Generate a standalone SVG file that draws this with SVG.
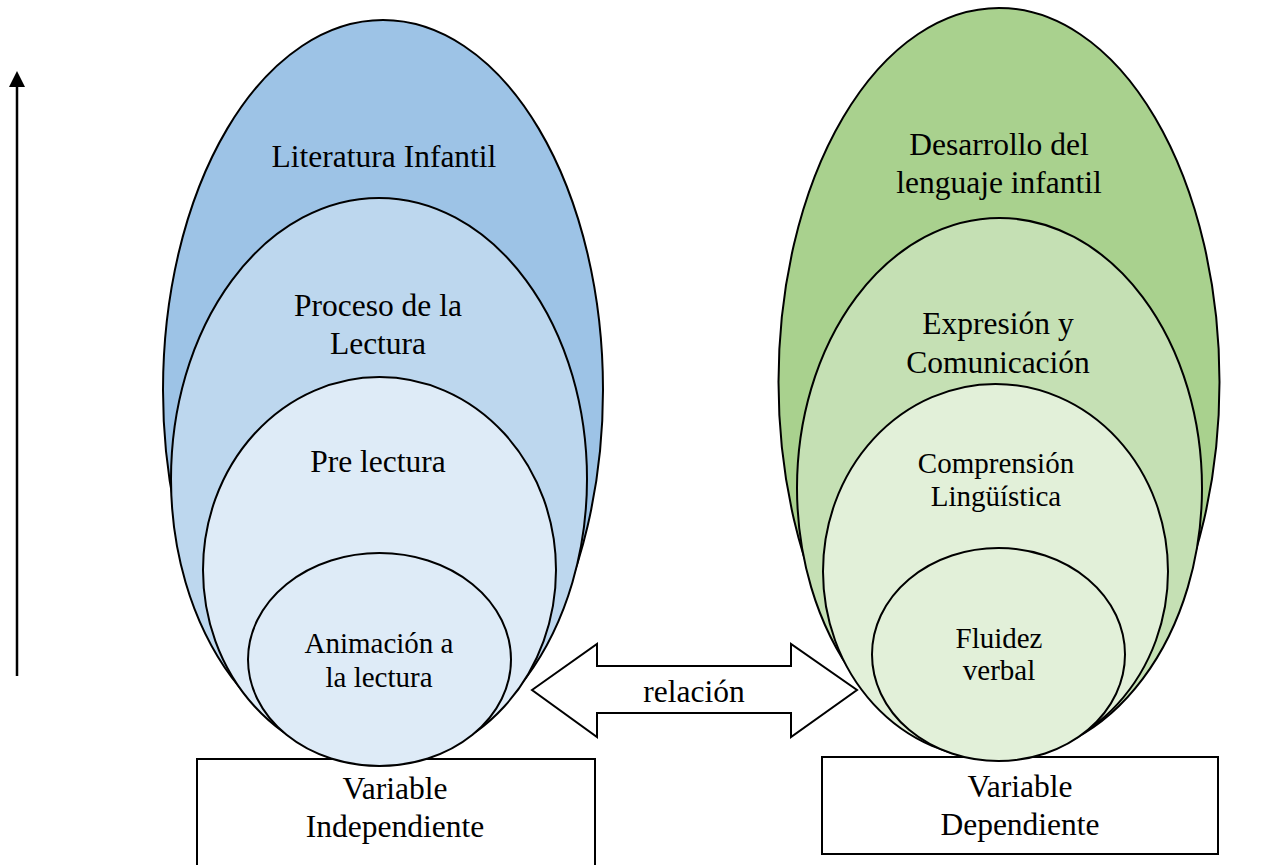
<svg xmlns="http://www.w3.org/2000/svg" width="1264" height="865" viewBox="0 0 1264 865">
<defs>
<style>
.e{stroke:#000;stroke-width:2}
.b{fill:#fff;stroke:#000;stroke-width:2}
.t{font-family:"Liberation Serif","Times New Roman",serif;font-size:31.5px;fill:#000;text-anchor:middle}
.s{font-size:29px}
</style>
<marker id="ah" markerWidth="10" markerHeight="10" refX="5" refY="0" orient="auto" markerUnits="userSpaceOnUse" viewBox="0 0 10 10"/>
</defs>
<rect width="1264" height="865" fill="#fff"/>
<g id="axis">
<line x1="17" y1="676" x2="17" y2="84" stroke="#000" stroke-width="2.5"/>
<polygon points="17,71 9,87 25,87" fill="#000"/>
</g>
<g id="box-independiente">
<rect class="b" x="197" y="759" width="398" height="120"/>
<text class="t" x="395" y="799">Variable</text>
<text class="t" x="395" y="837">Independiente</text>
</g>
<g id="box-dependiente">
<rect class="b" x="822" y="757" width="396" height="97"/>
<text class="t" x="1020" y="797">Variable</text>
<text class="t" x="1020" y="835">Dependiente</text>
</g>
<g id="literatura-infantil">
<ellipse class="e" cx="383" cy="390" rx="220" ry="370" fill="#9DC3E6"/>
<text class="t" x="384" y="167">Literatura Infantil</text>
</g>
<g id="proceso-lectura">
<ellipse class="e" cx="379" cy="479" rx="208" ry="281" fill="#BDD7EE"/>
<text class="t" x="378" y="316">Proceso de la</text>
<text class="t" x="378" y="354">Lectura</text>
</g>
<g id="pre-lectura">
<ellipse class="e" cx="379.5" cy="570" rx="176.5" ry="193" fill="#DEEBF7"/>
<text class="t" x="378" y="472">Pre lectura</text>
</g>
<g id="animacion">
<ellipse class="e" cx="379.5" cy="659.5" rx="131.5" ry="106.5" fill="#DEEBF7"/>
<text class="t s" x="379" y="653">Animación a</text>
<text class="t s" x="379" y="687">la lectura</text>
</g>
<g id="desarrollo-lenguaje">
<ellipse class="e" cx="999" cy="382" rx="220.5" ry="374" fill="#A9D18E"/>
<text class="t" x="999" y="155">Desarrollo del</text>
<text class="t" x="999" y="193">lenguaje infantil</text>
</g>
<g id="expresion">
<ellipse class="e" cx="999.5" cy="488" rx="202.5" ry="270" fill="#C5E0B4"/>
<text class="t" x="998" y="334">Expresión y</text>
<text class="t" x="998" y="373">Comunicación</text>
</g>
<g id="comprension">
<ellipse class="e" cx="995.5" cy="571.5" rx="172.5" ry="187.5" fill="#E2F0D9"/>
<text class="t s" x="996" y="473">Comprensión</text>
<text class="t s" x="996" y="506">Lingüística</text>
</g>
<g id="fluidez">
<ellipse class="e" cx="998.5" cy="654.5" rx="126.5" ry="106.5" fill="#E2F0D9"/>
<text class="t s" x="999" y="648">Fluidez</text>
<text class="t s" x="999" y="680">verbal</text>
</g>
<g id="connectors">
<path d="M532,690 L597,644 L597,666 L791,666 L791,644 L857,690 L791,737 L791,713 L597,713 L597,737 Z" fill="#fff" stroke="#000" stroke-width="2" stroke-linejoin="miter"/>
<text class="t" x="694" y="702">relación</text>
</g>
</svg>
